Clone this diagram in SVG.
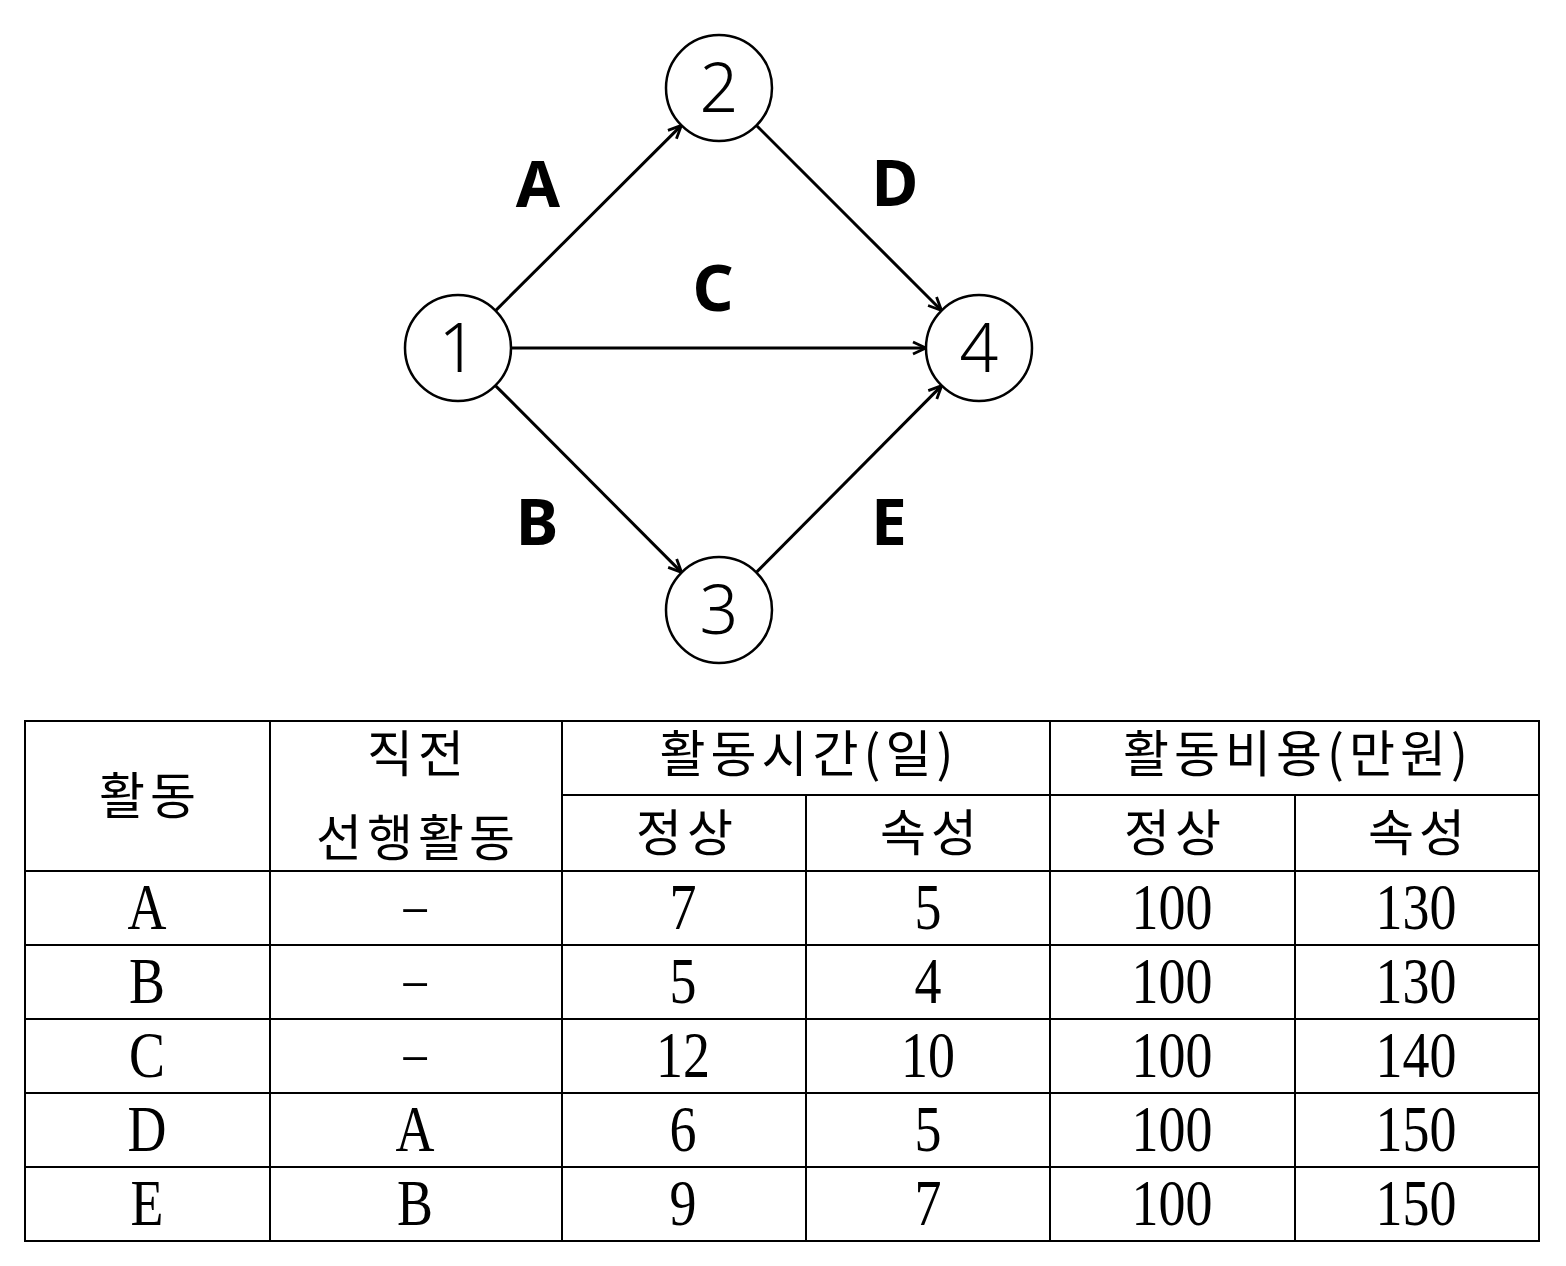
<svg xmlns="http://www.w3.org/2000/svg" width="1566" height="1266" viewBox="0 0 1566 1266">
<style>
.node circle{fill:#fff;stroke:#000;stroke-width:2.5}
.num{font-family:"Noto Sans","DejaVu Sans",sans-serif;font-weight:300;font-size:68px;text-anchor:middle;fill:#000}
.lbl{font-family:"Noto Sans","Open Sans",sans-serif;font-weight:bold;font-size:64px;text-anchor:middle;fill:#000}
.edge{stroke:#000;stroke-width:3;fill:none;marker-end:url(#arr)}
.grid line{stroke:#000;stroke-width:2}
.ko{font-family:"Noto Sans CJK KR",sans-serif;font-size:50px;text-anchor:middle;fill:#000;letter-spacing:5px}
.ser{font-family:"Liberation Serif",serif;font-size:65px;text-anchor:middle;fill:#000}
.dash{font-family:"Liberation Serif",serif;font-size:56px;text-anchor:middle;fill:#000}
</style>
<defs>
<marker id="arr" viewBox="0 0 16 16" refX="15" refY="8" markerWidth="16" markerHeight="16" markerUnits="userSpaceOnUse" orient="auto">
<path d="M2,2 L15,8 L2,14" fill="none" stroke="#000" stroke-width="2.8"/>
</marker>
</defs>
<rect width="1566" height="1266" fill="#fff"/>
<g id="connectors">
<line class="edge" x1="495.6" y1="310.6" x2="681.4" y2="125.4"/>
<line class="edge" x1="756.5" y1="125.5" x2="941.5" y2="310.5"/>
<line class="edge" x1="511" y1="348" x2="926" y2="348"/>
<line class="edge" x1="495.4" y1="385.6" x2="681.6" y2="572.4"/>
<line class="edge" x1="756.3" y1="572.4" x2="941.7" y2="385.6"/>
<text class="lbl" x="538" y="207">A</text>
<text class="lbl" x="895" y="206">D</text>
<text class="lbl" x="713" y="311">C</text>
<text class="lbl" x="537" y="545">B</text>
<text class="lbl" x="889" y="545">E</text>
</g>
<g id="node1" class="node"><circle cx="458" cy="348" r="53"/><text class="num" x="458" y="372">1</text></g>
<g id="node2" class="node"><circle cx="719" cy="88" r="53"/><text class="num" x="719" y="112">2</text></g>
<g id="node3" class="node"><circle cx="719" cy="610" r="53"/><text class="num" x="719" y="634">3</text></g>
<g id="node4" class="node"><circle cx="979" cy="348" r="53"/><text class="num" x="979" y="372">4</text></g>
<g id="table">
<g class="grid">
<rect x="25" y="721" width="1514" height="520" fill="none" stroke="#000" stroke-width="2"/>
<line x1="270" y1="721" x2="270" y2="1241"/>
<line x1="562" y1="721" x2="562" y2="1241"/>
<line x1="806" y1="795" x2="806" y2="1241"/>
<line x1="1050" y1="721" x2="1050" y2="1241"/>
<line x1="1295" y1="795" x2="1295" y2="1241"/>
<line x1="562" y1="795" x2="1539" y2="795"/>
<line x1="25" y1="871" x2="1539" y2="871"/>
<line x1="25" y1="945" x2="1539" y2="945"/>
<line x1="25" y1="1019" x2="1539" y2="1019"/>
<line x1="25" y1="1093" x2="1539" y2="1093"/>
<line x1="25" y1="1167" x2="1539" y2="1167"/>
</g>
<text class="ko" x="150" y="814">활동</text>
<text class="ko" x="418" y="772">직전</text>
<text class="ko" x="418" y="856">선행활동</text>
<text class="ko" x="809" y="772">활동시간(일)</text>
<text class="ko" x="1298" y="772">활동비용(만원)</text>
<text class="ko" x="687" y="851">정상</text>
<text class="ko" x="931" y="851">속성</text>
<text class="ko" x="1175" y="851">정상</text>
<text class="ko" x="1419" y="851">속성</text>
<g class="dash">
<g transform="translate(415,924) scale(0.83,1)"><text x="0" y="0">–</text></g>
<g transform="translate(415,998) scale(0.83,1)"><text x="0" y="0">–</text></g>
<g transform="translate(415,1072) scale(0.83,1)"><text x="0" y="0">–</text></g>
</g>
<g class="ser">
<g transform="translate(147,929) scale(0.83,1)"><text x="0" y="0">A</text></g>
<g transform="translate(683,929) scale(0.83,1)"><text x="0" y="0">7</text></g>
<g transform="translate(928,929) scale(0.83,1)"><text x="0" y="0">5</text></g>
<g transform="translate(1172,929) scale(0.83,1)"><text x="0" y="0">100</text></g>
<g transform="translate(1416,929) scale(0.83,1)"><text x="0" y="0">130</text></g>
<g transform="translate(147,1003) scale(0.83,1)"><text x="0" y="0">B</text></g>
<g transform="translate(683,1003) scale(0.83,1)"><text x="0" y="0">5</text></g>
<g transform="translate(928,1003) scale(0.83,1)"><text x="0" y="0">4</text></g>
<g transform="translate(1172,1003) scale(0.83,1)"><text x="0" y="0">100</text></g>
<g transform="translate(1416,1003) scale(0.83,1)"><text x="0" y="0">130</text></g>
<g transform="translate(147,1077) scale(0.83,1)"><text x="0" y="0">C</text></g>
<g transform="translate(683,1077) scale(0.83,1)"><text x="0" y="0">12</text></g>
<g transform="translate(928,1077) scale(0.83,1)"><text x="0" y="0">10</text></g>
<g transform="translate(1172,1077) scale(0.83,1)"><text x="0" y="0">100</text></g>
<g transform="translate(1416,1077) scale(0.83,1)"><text x="0" y="0">140</text></g>
<g transform="translate(147,1151) scale(0.83,1)"><text x="0" y="0">D</text></g>
<g transform="translate(415,1151) scale(0.83,1)"><text x="0" y="0">A</text></g>
<g transform="translate(683,1151) scale(0.83,1)"><text x="0" y="0">6</text></g>
<g transform="translate(928,1151) scale(0.83,1)"><text x="0" y="0">5</text></g>
<g transform="translate(1172,1151) scale(0.83,1)"><text x="0" y="0">100</text></g>
<g transform="translate(1416,1151) scale(0.83,1)"><text x="0" y="0">150</text></g>
<g transform="translate(147,1225) scale(0.83,1)"><text x="0" y="0">E</text></g>
<g transform="translate(415,1225) scale(0.83,1)"><text x="0" y="0">B</text></g>
<g transform="translate(683,1225) scale(0.83,1)"><text x="0" y="0">9</text></g>
<g transform="translate(928,1225) scale(0.83,1)"><text x="0" y="0">7</text></g>
<g transform="translate(1172,1225) scale(0.83,1)"><text x="0" y="0">100</text></g>
<g transform="translate(1416,1225) scale(0.83,1)"><text x="0" y="0">150</text></g>
</g>
</g>
</svg>
